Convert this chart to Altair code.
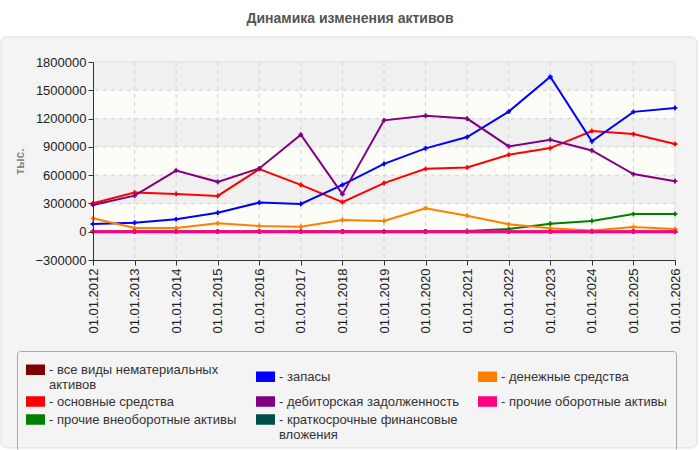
import altair as alt
import pandas as pd

dates = ["01.01.2012", "01.01.2013", "01.01.2014", "01.01.2015", "01.01.2016",
         "01.01.2017", "01.01.2018", "01.01.2019", "01.01.2020", "01.01.2021",
         "01.01.2022", "01.01.2023", "01.01.2024", "01.01.2025", "01.01.2026"]

intangible = [0, 0, 0, 0, 0, 0, 0, 0, 0, 0, 0, 0, 0, 0, 0]
fixed_assets = [302000, 415000, 401000, 380000, 664000, 497000, 313000, 515000,
                667000, 681000, 816000, 887000, 1068000, 1036000, 930000]
other_noncurrent = [0, 0, 0, 0, 0, 0, 0, 0, 0, 8000, 28000, 85000, 114000, 188000, 188000]
inventories = [82000, 96000, 132000, 202000, 309000, 295000, 497000, 720000,
               884000, 1004000, 1274000, 1643000, 958000, 1271000, 1313000]
receivables = [284000, 383000, 649000, 529000, 671000, 1029000, 398000, 1181000,
               1231000, 1200000, 905000, 976000, 862000, 611000, 536000]
short_invest = [0, 0, 0, 0, 0, 0, 0, 0, 0, 0, 0, 0, 0, 0, 0]
cash = [142000, 39000, 39000, 89000, 61000, 53000, 125000, 114000,
        249000, 170000, 79000, 36000, 12000, 50000, 29000]
other_current = [0, 0, 0, 0, 0, 0, 0, 0, 0, 0, 0, 0, 0, 0, 0]

names = ["все виды нематериальных активов", "основные средства", "прочие внеоборотные активы",
         "запасы", "дебиторская задолженность", "краткосрочные финансовые вложения",
         "денежные средства", "прочие оборотные активы"]
series_values = [intangible, fixed_assets, other_noncurrent, inventories, receivables,
                 short_invest, cash, other_current]
colors = ["#800000", "#ff0000", "#008000", "#0000ff", "#800080", "#004d4d",
          "#ff8000", "#ff0080"]
widths = [2, 2, 2, 2, 1.5, 2, 2, 3]

y_ticks = [-300000, 0, 300000, 600000, 900000, 1200000, 1500000, 1800000]
band_fill = ["hatch", "plain", "hatch", "plain", "hatch", "plain", "hatch"]

rows = []
for n, vals in zip(names, series_values):
    for d, v in zip(dates, vals):
        rows.append({"series": n, "date": d, "value": v})
df = pd.DataFrame(rows)

bands = pd.DataFrame({"value": y_ticks[:-1], "y2": y_ticks[1:], "kind": band_fill})
ygrid = pd.DataFrame({"value": y_ticks[1:-1]})
xgrid = pd.DataFrame({"date": dates[1:-1]})
ytop = pd.DataFrame({"value": y_ticks[-1:]})
xright = pd.DataFrame({"date": dates[-1:]})

xscale = alt.Scale(type="point", padding=0, domain=dates)
yscale = alt.Scale(domain=[-300000, 1800000], nice=False)
xaxis = alt.Axis(title=None, labelAngle=270, labelFontSize=13, labelFont="Liberation Sans",
                 labelColor="#222", grid=False, domainColor="#333", tickColor="#333",
                 tickSize=5, labelPadding=3, labelOverlap=False, zindex=1)
yaxis = alt.Axis(title="тыс.", values=y_ticks, format="d", labelFontSize=13,
                 labelFont="Liberation Sans", labelColor="#222", grid=False,
                 labelOverlap=False, domainColor="#333", tickColor="#333", tickSize=5,
                 titleFont="Liberation Sans", titleFontSize=12, titleColor="#888",
                 titleFontWeight="bold", titlePadding=9, zindex=1)
xs = alt.X("date:O", scale=xscale, axis=xaxis)
ys = alt.Y("value:Q", scale=yscale, axis=yaxis)
cscale = alt.Scale(domain=names, range=colors)

panel = alt.Chart(pd.DataFrame({"a": [0]})).mark_rect(
    fill="#f4f4f4", stroke="#dddddd", strokeWidth=1, cornerRadius=6
).encode(x=alt.value(-92), x2=alt.value(604), y=alt.value(-25), y2=alt.value(386))

band_layer = alt.Chart(bands).mark_rect().encode(
    y=ys,
    y2="y2:Q",
    fill=alt.Fill("kind:N", scale=alt.Scale(domain=["hatch", "plain"], range=["#f0f0f0", "#fdfdf7"]), legend=None),
)
ygrid_layer = alt.Chart(ygrid).mark_rule(color="#d2d2d2", strokeDash=[4, 4], strokeWidth=1).encode(y=ys)
xgrid_layer = alt.Chart(xgrid).mark_rule(color="#d2d2d2", strokeDash=[4, 4], strokeWidth=1).encode(x=xs)
ytop_layer = alt.Chart(ytop).mark_rule(color="#dddddd", strokeWidth=1).encode(y=ys)
xright_layer = alt.Chart(xright).mark_rule(color="#dddddd", strokeWidth=1).encode(x=xs)

wrap_expr = ("datum.label == 'все виды нематериальных активов' ? ['- все виды нематериальных', '   активов'] : "
             "datum.label == 'краткосрочные финансовые вложения' ? ['- краткосрочные финансовые', '   вложения'] : "
             "'- ' + datum.label")

base = alt.Chart(df)
lines = base.mark_line().encode(
    x=xs, y=ys,
    color=alt.Color("series:N", scale=cscale,
                    legend=alt.Legend(title=None, orient="none", legendX=-76, legendY=289,
                                      columns=3, columnPadding=16, rowPadding=0,
                                      symbolType="M-1,-0.5H1V0.5H-1Z", symbolSize=289,
                                      symbolStrokeWidth=1, symbolFillColor="#888",
                                      labelFont="Liberation Sans",
                                      labelFontSize=13, labelColor="#333", labelLimit=260,
                                      labelExpr=wrap_expr, strokeColor="#aaaaaa",
                                      cornerRadius=3, padding=9, labelOffset=4, zindex=1)),
    strokeWidth=alt.StrokeWidth("series:N", scale=alt.Scale(domain=names, range=widths), legend=None),
)
points = base.mark_point(shape="cross", filled=True, size=22, opacity=1).encode(
    x=xs, y=ys,
    color=alt.Color("series:N", scale=cscale),
)
pink = df[df["series"] == "прочие оборотные активы"]
pink_line = alt.Chart(pink).mark_line(strokeWidth=3).encode(
    x=xs, y=ys, color=alt.Color("series:N", scale=cscale))
pink_pts = alt.Chart(pink).mark_point(shape="cross", filled=True, size=22, opacity=1).encode(
    x=xs, y=ys, color=alt.Color("series:N", scale=cscale))

chart = alt.layer(panel, band_layer, ygrid_layer, xgrid_layer, ytop_layer, xright_layer,
                  lines, points, pink_line, pink_pts).properties(
    width=582, height=198,
    title=alt.TitleParams("Динамика изменения активов", font="Liberation Sans", fontSize=14,
                          fontWeight="bold", color="#555", anchor="middle", dx=-34, offset=11,
                          frame="group", zindex=1),
    autosize=alt.AutoSizeParams(type="none"),
    padding={"left": 93, "top": 62, "right": 25, "bottom": 190},
).configure_view(stroke=None).configure(background="white")

chart.save("out.html", embed_options={"renderer": "svg", "actions": False})
